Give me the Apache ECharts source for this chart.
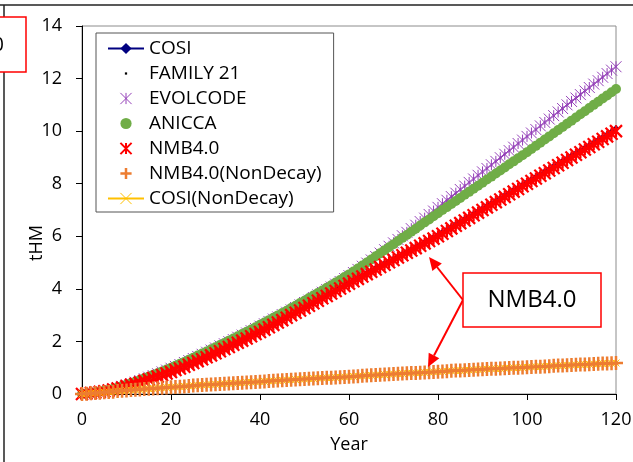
<!DOCTYPE html>
<html>
<head>
<meta charset="utf-8">
<script src="https://cdn.jsdelivr.net/npm/echarts@6.0.0/dist/echarts.min.js"></script>
<style>
html, body { margin: 0; padding: 0; background: #fff; }
#chart { width: 633px; height: 462px; }
</style>
</head>
<body>
<div id="chart"></div>
<script>
// tHM per year, 0..120
var cosi = [
    0.00,0.02,0.04,0.07,0.09,0.11,0.14,0.18,0.22,0.26,
    0.31,0.36,0.41,0.46,0.52,0.57,0.63,0.69,0.75,0.81,
    0.87,0.94,1.01,1.08,1.15,1.22,1.29,1.36,1.44,1.51,
    1.59,1.67,1.75,1.83,1.91,1.99,2.07,2.15,2.24,2.32,
    2.40,2.49,2.58,2.67,2.76,2.85,2.94,3.04,3.13,3.22,
    3.31,3.40,3.49,3.59,3.68,3.77,3.86,3.96,4.05,4.15,
    4.24,4.33,4.42,4.51,4.60,4.69,4.78,4.87,4.96,5.05,
    5.14,5.23,5.32,5.41,5.50,5.59,5.68,5.77,5.86,5.95,
    6.05,6.15,6.25,6.35,6.45,6.55,6.65,6.75,6.85,6.95,
    7.05,7.15,7.25,7.35,7.45,7.55,7.65,7.75,7.85,7.95,
    8.06,8.16,8.26,8.36,8.46,8.56,8.66,8.76,8.86,8.96,
    9.06,9.16,9.26,9.36,9.46,9.56,9.66,9.76,9.87,9.98,
    10.10
];
// FAMILY 21 sits on top of COSI in the picture
var family21 = cosi.slice();
var evolcode = [
    0.00,0.02,0.04,0.06,0.09,0.12,0.15,0.19,0.24,0.29,
    0.34,0.40,0.45,0.51,0.58,0.64,0.70,0.77,0.84,0.91,
    0.98,1.05,1.12,1.20,1.27,1.35,1.43,1.51,1.59,1.67,
    1.75,1.83,1.91,1.99,2.07,2.16,2.24,2.32,2.41,2.49,
    2.58,2.67,2.76,2.85,2.93,3.02,3.11,3.20,3.29,3.39,
    3.48,3.57,3.67,3.77,3.87,3.97,4.07,4.18,4.28,4.39,
    4.50,4.62,4.74,4.86,4.98,5.10,5.23,5.36,5.49,5.62,
    5.75,5.88,6.02,6.15,6.29,6.42,6.56,6.69,6.83,6.96,
    7.10,7.24,7.37,7.51,7.64,7.78,7.91,8.05,8.18,8.32,
    8.45,8.58,8.72,8.85,8.99,9.12,9.26,9.39,9.53,9.66,
    9.80,9.93,10.06,10.20,10.33,10.46,10.59,10.73,10.86,11.00,
    11.13,11.26,11.39,11.53,11.66,11.79,11.92,12.05,12.19,12.32,
    12.45
];
var anicca = [
    0.00,0.02,0.04,0.07,0.09,0.12,0.16,0.20,0.25,0.30,
    0.36,0.41,0.47,0.53,0.60,0.66,0.73,0.79,0.86,0.93,
    1.00,1.07,1.15,1.22,1.30,1.38,1.46,1.54,1.62,1.70,
    1.78,1.86,1.94,2.03,2.11,2.20,2.28,2.37,2.45,2.54,
    2.63,2.72,2.81,2.90,2.99,3.08,3.17,3.27,3.36,3.46,
    3.55,3.65,3.75,3.84,3.94,4.04,4.14,4.24,4.34,4.45,
    4.55,4.66,4.77,4.89,5.00,5.12,5.24,5.35,5.47,5.58,
    5.70,5.82,5.94,6.05,6.17,6.29,6.41,6.53,6.64,6.76,
    6.88,7.00,7.11,7.23,7.34,7.46,7.58,7.69,7.81,7.92,
    8.04,8.16,8.27,8.39,8.50,8.62,8.74,8.85,8.97,9.08,
    9.20,9.32,9.44,9.56,9.68,9.80,9.92,10.04,10.16,10.28,
    10.40,10.52,10.64,10.76,10.88,11.00,11.12,11.24,11.36,11.48,
    11.60
];
var nmb = [
    0.00,0.02,0.04,0.06,0.08,0.10,0.13,0.17,0.21,0.25,
    0.30,0.35,0.39,0.44,0.50,0.55,0.61,0.66,0.72,0.78,
    0.84,0.91,0.97,1.04,1.11,1.18,1.25,1.32,1.40,1.47,
    1.55,1.63,1.71,1.79,1.87,1.95,2.03,2.11,2.20,2.28,
    2.36,2.45,2.54,2.63,2.72,2.81,2.90,3.00,3.09,3.18,
    3.27,3.36,3.45,3.55,3.64,3.73,3.82,3.92,4.01,4.11,
    4.20,4.29,4.38,4.47,4.56,4.65,4.74,4.83,4.92,5.01,
    5.10,5.19,5.28,5.37,5.46,5.55,5.64,5.73,5.82,5.91,
    6.00,6.10,6.20,6.30,6.40,6.50,6.60,6.70,6.80,6.90,
    7.00,7.10,7.20,7.30,7.40,7.50,7.60,7.70,7.80,7.90,
    8.00,8.10,8.20,8.30,8.40,8.50,8.60,8.70,8.80,8.90,
    9.00,9.10,9.20,9.30,9.40,9.50,9.60,9.70,9.80,9.90,
    10.00
];
var nmbNonDecay = [
    0.00,0.01,0.03,0.04,0.05,0.07,0.08,0.09,0.11,0.12,
    0.13,0.15,0.16,0.17,0.19,0.20,0.21,0.22,0.24,0.25,
    0.26,0.27,0.28,0.29,0.30,0.32,0.33,0.34,0.35,0.36,
    0.37,0.38,0.39,0.40,0.41,0.42,0.43,0.44,0.45,0.46,
    0.47,0.48,0.49,0.50,0.51,0.52,0.53,0.54,0.55,0.56,
    0.57,0.58,0.59,0.60,0.61,0.62,0.62,0.63,0.64,0.65,
    0.66,0.67,0.68,0.69,0.70,0.71,0.72,0.73,0.74,0.75,
    0.76,0.77,0.78,0.79,0.80,0.80,0.81,0.82,0.83,0.84,
    0.85,0.86,0.87,0.88,0.89,0.89,0.90,0.91,0.92,0.93,
    0.94,0.95,0.96,0.96,0.97,0.98,0.99,1.00,1.00,1.01,
    1.02,1.03,1.04,1.04,1.05,1.06,1.07,1.08,1.08,1.09,
    1.10,1.11,1.12,1.12,1.13,1.14,1.15,1.16,1.16,1.17,
    1.18
];
// COSI(NonDecay) lies under the NMB4.0(NonDecay) markers
var cosiNonDecay = nmbNonDecay.slice();

var seriesNames = ['COSI', 'FAMILY 21', 'EVOLCODE', 'ANICCA', 'NMB4.0', 'NMB4.0(NonDecay)', 'COSI(NonDecay)'];
var xTicks = { min: 0, max: 120, step: 20 };
var yTicks = { min: 0, max: 14, step: 2 };

var FONT = '"Open Sans", "Noto Sans", sans-serif';

// marker shapes (stroke only)
var STAR = 'path://M0,0L10,10M10,0L0,10M5,0L5,10';
var PLUS = 'path://M5,0L5,10M0,5L10,5';
var CROSS = 'path://M0,0L10,10M10,0L0,10';
var DOT = 'path://M0,0M10,10M4,4L6,4L6,6L4,6Z';

function pairs(vals) {
    var out = [];
    for (var i = 0; i < vals.length; i++) out.push([i, vals[i]]);
    return out;
}

var myChart = echarts.init(document.getElementById('chart'), null, { renderer: 'canvas' });

var option = {
    animation: false,
    textStyle: { fontFamily: FONT },
    grid: {
        left: 82, right: 17, top: 26, bottom: 68,
        show: true, borderColor: '#8c8c8c', borderWidth: 1,
        outerBoundsMode: 'none'
    },
    legend: {
        orient: 'vertical',
        left: 96, top: 33,
        padding: [6, 12, 4, 11],
        itemGap: 6,
        itemWidth: 36, itemHeight: 14,
        backgroundColor: '#fff',
        borderColor: '#555', borderWidth: 1, borderRadius: 0,
        selectedMode: false,
        textStyle: { fontFamily: FONT, fontSize: 19, color: '#000' },
        data: [
            { name: seriesNames[0] },
            { name: seriesNames[1] },
            { name: seriesNames[2], itemStyle: { borderWidth: 1 } },
            { name: seriesNames[3] },
            { name: seriesNames[4], itemStyle: { borderWidth: 2 } },
            { name: seriesNames[5], itemStyle: { borderWidth: 2.5 } },
            { name: seriesNames[6], itemStyle: { borderWidth: 1 } }
        ]
    },
    xAxis: {
        type: 'value',
        min: xTicks.min, max: xTicks.max, interval: xTicks.step,
        name: 'Year', nameLocation: 'middle', nameGap: 42,
        nameTextStyle: { fontFamily: FONT, fontSize: 18, color: '#000' },
        axisLine: { lineStyle: { color: '#000', width: 1 } },
        axisTick: { show: true, length: 6, lineStyle: { color: '#000' } },
        axisLabel: { fontFamily: FONT, fontSize: 18, color: '#000', margin: 17 },
        splitLine: { show: false }
    },
    yAxis: {
        type: 'value',
        min: yTicks.min, max: yTicks.max, interval: yTicks.step,
        axisLine: { show: true, lineStyle: { color: '#000', width: 1 } },
        axisTick: { show: true, length: 6, lineStyle: { color: '#000' } },
        axisLabel: { fontFamily: FONT, fontSize: 18, color: '#000', margin: 20 },
        splitLine: { show: false }
    },
    series: [
        {
            name: seriesNames[0], type: 'line', data: pairs(cosi), silent: true,
            symbol: 'diamond', symbolSize: 7,
            itemStyle: { color: '#000080' },
            lineStyle: { color: '#000080', width: 1.5 }
        },
        {
            name: seriesNames[1], type: 'line', data: pairs(family21), silent: true,
            symbol: DOT, symbolSize: 12,
            itemStyle: { color: '#000' },
            lineStyle: { width: 0 }
        },
        {
            name: seriesNames[2], type: 'line', data: pairs(evolcode), silent: true,
            symbol: STAR, symbolSize: 11,
            itemStyle: { color: '#9440b8', borderColor: '#9440b8', borderWidth: 1 },
            lineStyle: { width: 0 }
        },
        {
            name: seriesNames[3], type: 'line', data: pairs(anicca), silent: true,
            symbol: 'circle', symbolSize: 10,
            itemStyle: { color: '#70ad47' },
            lineStyle: { width: 0 }
        },
        {
            name: seriesNames[4], type: 'line', data: pairs(nmb), silent: true,
            symbol: STAR, symbolSize: 12,
            itemStyle: { color: '#ff0000', borderColor: '#ff0000', borderWidth: 2.2 },
            lineStyle: { width: 0 }
        },
        {
            name: seriesNames[5], type: 'line', data: pairs(nmbNonDecay), silent: true, z: 4,
            symbol: PLUS, symbolSize: 14,
            itemStyle: { color: '#ed7d31', borderColor: '#ed7d31', borderWidth: 2.5 },
            lineStyle: { width: 0 }
        },
        {
            name: seriesNames[6], type: 'line', data: pairs(cosiNonDecay), silent: true, z: 3,
            symbol: CROSS, symbolSize: 7,
            itemStyle: { color: '#ffc000', borderColor: '#ffc000', borderWidth: 1 },
            lineStyle: { color: '#ffc000', width: 1.5 }
        }
    ],
    graphic: [
        // figure frame (top and left)
        { type: 'line', z: 100, shape: { x1: 0, y1: 5, x2: 633, y2: 5 }, style: { stroke: '#222', lineWidth: 1.5 } },
        { type: 'line', z: 100, shape: { x1: 4, y1: 5, x2: 4, y2: 462 }, style: { stroke: '#222', lineWidth: 1.5 } },
        // cut-off label box on the left
        { type: 'rect', z: 101, shape: { x: -2, y: 17, width: 28, height: 55 }, style: { fill: '#fff', stroke: '#ff0000', lineWidth: 1.5 } },
        { type: 'text', z: 102, x: 4, y: 45, style: { text: '0', font: '20px ' + FONT, fill: '#000', align: 'right', verticalAlign: 'middle' } },
        // y axis title
        { type: 'text', z: 100, x: 37, y: 243, rotation: Math.PI / 2, style: { text: 'tHM', font: '18px ' + FONT, fill: '#000', align: 'center', verticalAlign: 'middle' } },
        // NMB4.0 callout
        { type: 'line', z: 100, shape: { x1: 463, y1: 300, x2: 437, y2: 267 }, style: { stroke: '#ff0000', lineWidth: 2 } },
        { type: 'polygon', z: 100, shape: { points: [[429, 257], [441.8, 263.5], [432.4, 270.9]] }, style: { fill: '#ff0000' } },
        { type: 'line', z: 100, shape: { x1: 463, y1: 300, x2: 434, y2: 355.5 }, style: { stroke: '#ff0000', lineWidth: 2 } },
        { type: 'polygon', z: 100, shape: { points: [[428, 367], [439.3, 358.3], [428.7, 352.7]] }, style: { fill: '#ff0000' } },
        { type: 'rect', z: 101, shape: { x: 463, y: 273, width: 138, height: 54 }, style: { fill: '#fff', stroke: '#ff0000', lineWidth: 1.5 } },
        { type: 'text', z: 102, x: 532, y: 300, style: { text: 'NMB4.0', font: '24px ' + FONT, fill: '#000', align: 'center', verticalAlign: 'middle' } }
    ]
};

myChart.setOption(option);
</script>
</body>
</html>
